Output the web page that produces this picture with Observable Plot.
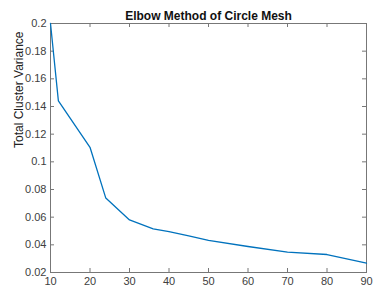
<!DOCTYPE html>
<html><head><meta charset="utf-8">
<script src="https://cdn.jsdelivr.net/npm/d3@7"></script>
<script src="https://cdn.jsdelivr.net/npm/@observablehq/plot@0.6"></script>
<style>body{margin:0;background:#fff;} svg{font-family:"Liberation Sans",Arial,sans-serif;}</style>
</head><body><div id="chart"></div>
<script>
const k = [10, 12, 20, 24, 30, 36, 40, 45, 50, 60, 70, 80, 90];
const variance = [0.2, 0.144, 0.1105, 0.0738, 0.058, 0.0516, 0.0495, 0.0465, 0.0432, 0.0388, 0.0348, 0.033, 0.0268];
const xTicks = [10, 20, 30, 40, 50, 60, 70, 80, 90];
const yTicks = [0.02, 0.04, 0.06, 0.08, 0.1, 0.12, 0.14, 0.16, 0.18, 0.2];
const title = "Elbow Method of Circle Mesh";
const yLabel = "Total Cluster Variance";
const data = k.map((d, i) => ({k: d, v: variance[i]}));
const axisColor = "#404040";
const tickColor = "#777";
const W = 373, H = 287, mL = 50, mR = 7, mT = 23, mB = 15, tl = 4;
const fw = W - mL - mR, fh = H - mT - mB;
const chart = Plot.plot({
  width: W, height: H,
  marginLeft: mL, marginRight: mR, marginTop: mT, marginBottom: mB,
  style: {fontSize: "11px", color: axisColor, fontFamily: "Liberation Sans, Arial, sans-serif"},
  x: {domain: [10, 90]},
  y: {domain: [0.02, 0.2]},
  marks: [
    Plot.frame({stroke: tickColor, strokeWidth: 1}),
    Plot.axisX(xTicks, {anchor: "bottom", tickSize: 0, tickPadding: 5, label: null, fill: axisColor}),
    Plot.axisY(yTicks, {anchor: "left", tickSize: 0, tickPadding: 4, label: null, fill: axisColor, tickFormat: d => String(+d.toFixed(2))}),
    Plot.tickX(xTicks, {x: d => d, insetTop: fh - tl, stroke: tickColor}),
    Plot.tickX(xTicks, {x: d => d, insetBottom: fh - tl, stroke: tickColor}),
    Plot.tickY(yTicks, {y: d => d, insetRight: fw - tl, stroke: tickColor}),
    Plot.tickY(yTicks, {y: d => d, insetLeft: fw - tl, stroke: tickColor}),
    Plot.line(data, {x: "k", y: "v", stroke: "#0072BD", strokeWidth: 1.3}),
    Plot.text([title], {frameAnchor: "top", lineAnchor: "bottom", dy: -4, fontWeight: "bold", fontSize: 12, fill: "#111"}),
    Plot.text([yLabel], {frameAnchor: "left", dx: -31, rotate: -90, fontSize: 12, fill: "#222"})
  ]
});
document.getElementById("chart").appendChild(chart);
</script></body></html>
